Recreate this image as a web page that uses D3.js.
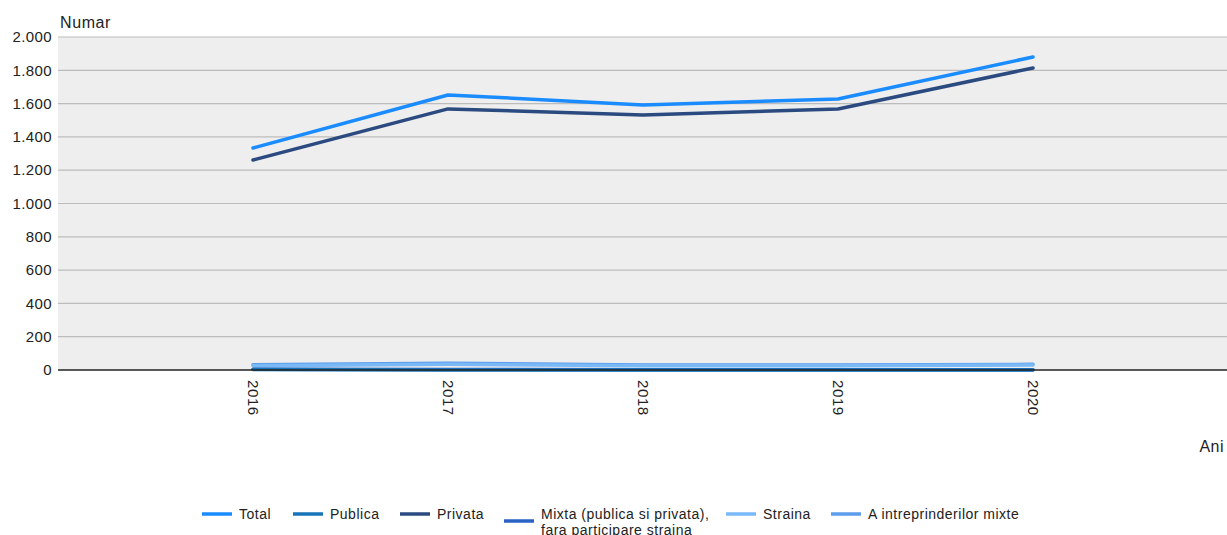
<!DOCTYPE html>
<html>
<head>
<meta charset="utf-8">
<script src="https://cdn.jsdelivr.net/npm/d3@7"></script>
<style>
  body { margin: 0; background: #fff; }
  text { font-family: "Liberation Sans", Arial, sans-serif; }
</style>
</head>
<body>
<div id="chart"></div>
<script>
// data
var years = [2016, 2017, 2018, 2019, 2020];
var total = [1333, 1652, 1592, 1628, 1880];
var publica = [3, 0, 0, 0, 0];
var privata = [1261, 1568, 1532, 1568, 1814];
var mixta = [5, 3, 2, 2, 1];
var straina = [26, 35, 26, 26, 30];
var mixte = [32, 40, 30, 30, 34];
var yTicks = [0, 200, 400, 600, 800, 1000, 1200, 1400, 1600, 1800, 2000];

var series = [
  {name: "Total", values: total, color: "#1a8cff"},
  {name: "Publica", values: publica, color: "#1874b8"},
  {name: "Privata", values: privata, color: "#2b4a80"},
  {name: "Mixta (publica si privata),|fara participare straina", values: mixta, color: "#2a62c4"},
  {name: "Straina", values: straina, color: "#7ab9f7"},
  {name: "A intreprinderilor mixte", values: mixte, color: "#5c9cea"}
];

var W = 1227, H = 535;
var m = {top: 37, left: 58, right: 0, bottom: 165};

var svg = d3.select("#chart").append("svg")
  .attr("width", W).attr("height", H);

var x = d3.scaleLinear().domain([2015, 2021]).range([m.left, W - m.right + 1]);
var y = d3.scaleLinear().domain([0, 2000]).range([370, 37]);

// plot background
svg.append("rect")
  .attr("x", m.left).attr("y", y(2000))
  .attr("width", W - m.left).attr("height", y(0) - y(2000))
  .style("fill", "#eeeeee");

// grid
svg.append("g").selectAll("line").data(yTicks.slice(1)).enter()
  .append("line")
  .attr("x1", m.left).attr("x2", W)
  .attr("y1", function(d){ return y(d); }).attr("y2", function(d){ return y(d); })
  .style("stroke", "#bcbcbc").style("stroke-width", 1.2);

// y tick labels
var fmt = function(d){ return d3.format(",")(d).replace(/,/g, "."); };
svg.append("g").selectAll("text").data(yTicks).enter()
  .append("text")
  .attr("x", 52).attr("y", function(d){ return y(d); })
  .attr("dy", ".35em").style("text-anchor", "end")
  .attr("font-size", "15px").attr("letter-spacing", "0.4px").style("fill", "#222")
  .text(fmt);

// lines
var line = d3.line()
  .x(function(d, i){ return x(years[i]); })
  .y(function(d){ return y(d); });

svg.append("g").selectAll("path").data(series.slice().reverse()).enter()
  .append("path")
  .attr("d", function(s){ return line(s.values); })
  .style("fill", "none")
  .style("stroke", function(s){ return s.color; })
  .style("stroke-width", 3.5)
  .style("stroke-linecap", "round")
  .style("stroke-linejoin", "round");

// zero axis
svg.append("line")
  .attr("x1", m.left).attr("x2", W)
  .attr("y1", y(0)).attr("y2", y(0))
  .style("stroke", "#222").style("stroke-width", 1.5);

// x labels, rotated
svg.append("g").selectAll("text").data(years).enter()
  .append("text")
  .attr("transform", function(d){ return "translate(" + x(d) + "," + 380 + ") rotate(90)"; })
  .attr("dy", ".35em").style("text-anchor", "start")
  .attr("font-size", "15px").attr("letter-spacing", "0.6px").style("fill", "#222")
  .text(function(d){ return d; });

// axis titles
svg.append("text").attr("x", 60).attr("y", 28)
  .attr("font-size", "16px").attr("letter-spacing", "0.6px").style("fill", "#222").text("Numar");
svg.append("text").attr("x", 1224).attr("y", 452)
  .style("text-anchor", "end")
  .attr("font-size", "16px").attr("letter-spacing", "0.5px").style("fill", "#222").text("Ani");

// legend
var legX = [202, 293, 400, 504, 726, 831];
var leg = svg.append("g").selectAll("g").data(series).enter()
  .append("g")
  .attr("transform", function(d, i){ return "translate(" + legX[i] + ",514)"; });
leg.append("line")
  .attr("x1", 0).attr("x2", 30)
  .attr("y1", function(d, i){ return i == 3 ? 7 : 0; })
  .attr("y2", function(d, i){ return i == 3 ? 7 : 0; })
  .style("stroke", function(d){ return d.color; })
  .style("stroke-width", 3.5);
leg.append("text")
  .attr("x", 37).attr("y", 0)
  .attr("font-size", "14px").attr("letter-spacing", "0.5px").style("fill", "#222")
  .selectAll("tspan")
  .data(function(d){ return d.name.split("|"); }).enter()
  .append("tspan")
  .attr("x", 37)
  .attr("dy", function(d, i){ return i == 0 ? ".35em" : "16px"; })
  .text(function(d){ return d; });
</script>
</body>
</html>
